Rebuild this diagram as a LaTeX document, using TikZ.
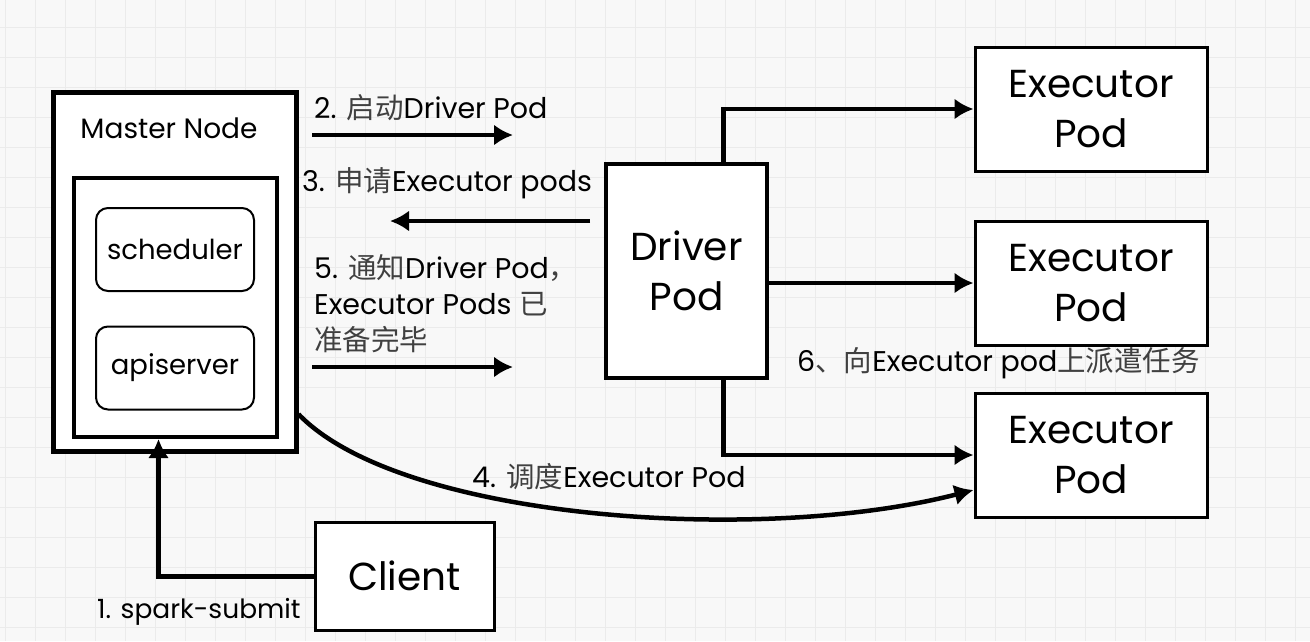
\documentclass[tikz,border=0pt]{standalone}
\usepackage{fontspec}
\setmainfont{Poppins}
\newfontfamily\cjk{Noto Sans CJK SC}
\usetikzlibrary{arrows.meta}
\definecolor{bgc}{HTML}{F8F8F8}
\definecolor{gridc}{HTML}{EBEBEB}
\newcommand{\zh}[1]{{\cjk\color{black!75}#1}}

\begin{document}
\begin{tikzpicture}[x=1pt, y=-1pt,
        box/.style={draw, fill=white, line width=3pt, align=center, font=\fontsize{39}{50}\selectfont},
        inbox/.style={draw, fill=white, rounded corners=12pt, line width=2pt, minimum width=158pt, minimum height=83pt, font=\fontsize{27.5}{32}\selectfont},
        lbl/.style={anchor=west, inner sep=0pt, align=left, font=\fontsize{28.5}{36}\selectfont},
        arr/.style={line width=4.5pt, -{Latex[length=19pt,width=21pt]}},
        gridln/.style={gridc, line width=0.8pt}]
    \fill[bgc] (0,0) rectangle (1310,641);
    \useasboundingbox (0,0) rectangle (1310,641);
    \foreach \gx in {5,35,...,1305} \draw[gridln] (\gx,0) -- (\gx,641);
    \foreach \gy in {27,57,...,627} \draw[gridln] (0,\gy) -- (1310,\gy);

    \node[draw, fill=white, line width=5pt, minimum width=243pt, minimum height=359pt] (master) at (174.5,271.5) {};
    \node[font=\fontsize{28}{32}\selectfont] (mastertitle) at (169,128) {Master Node};
    \node[draw, fill=white, line width=4pt, minimum width=203pt, minimum height=259pt] (inner) at (175.5,307.5) {};
    \node[inbox] (scheduler) at (175,249.5) {scheduler};
    \node[inbox] (apiserver) at (175,368) {apiserver};

    \node[box, line width=4pt, minimum width=161pt, minimum height=214pt] (driver) at (686.5,271) {Driver\\Pod};
    \node[box, minimum width=232pt, minimum height=124pt] (exec1) at (1091,109) {Executor\\Pod};
    \node[box, minimum width=232pt, minimum height=124pt] (exec2) at (1091,283) {Executor\\Pod};
    \node[box, minimum width=232pt, minimum height=124pt] (exec3) at (1091,455) {Executor\\Pod};
    \node[box, minimum width=179pt, minimum height=108pt] (client) at (404.5,576) {Client};

    \coordinate (startA) at (312,135);
    \coordinate (endA) at (513,135);
    \coordinate (startB) at (590,221);
    \coordinate (endB) at (390,221);
    \coordinate (startC) at (312,367);
    \coordinate (endC) at (513,367);

    \draw[arr, line width=5pt] (client.west) -| ([xshift=-17pt]inner.south);
    \draw[arr] (startA) -- (endA);
    \draw[arr] (startB) -- (endB);
    \draw[arr] (startC) -- (endC);
    \draw[arr] (master.-49) .. controls (400,520) and (760,545) .. ([yshift=-35pt]exec3.west);
    \draw[arr] ([xshift=37pt]driver.north) |- (exec1.west);
    \draw[arr] (driver.east |- exec2.west) -- (exec2.west);
    \draw[arr] ([xshift=37pt]driver.south) |- (exec3.west);

    \node[lbl, font=\fontsize{26.5}{32}\selectfont] (lblsubmit) at (97,612) {1. spark-submit};
    \node[lbl] (lblstart) at (314,108) {2. \zh{启动}Driver Pod};
    \node[lbl] (lblapply) at (302,183) {3. \zh{申请}Executor pods};
    \node[lbl] (lblsched) at (472,477) {4. \zh{调度}Executor Pod};
    \node[lbl] (lblready) at (314,304) {5. \zh{通知}Driver Pod\zh{，}\\Executor Pods \zh{已}\\\zh{准备完毕}};
    \node[lbl] (lbltask) at (797,363) {6\zh{、向}Executor pod\zh{上派遣任务}};
\end{tikzpicture}
\end{document}
